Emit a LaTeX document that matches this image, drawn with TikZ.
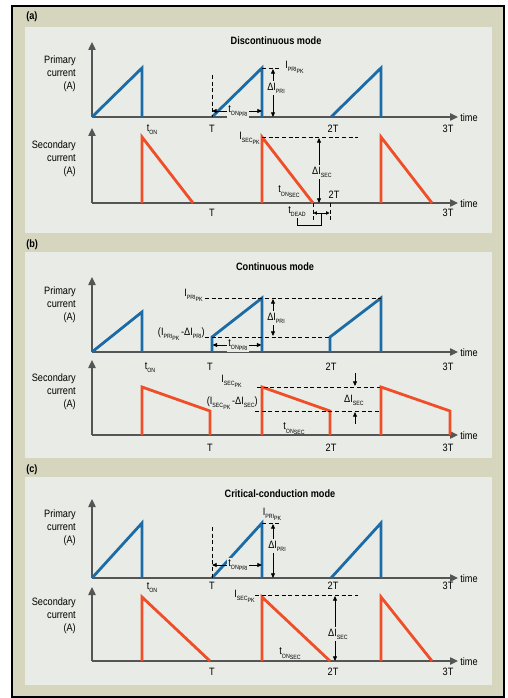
\documentclass[tikz,border=0pt]{standalone}
\usepackage{fontspec}
\setmainfont{Liberation Sans}[FakeStretch=0.86]
\usetikzlibrary{arrows.meta}

\definecolor{frametan}{RGB}{214,213,190}
\definecolor{panelgray}{RGB}{233,235,230}
\definecolor{priblue}{RGB}{27,108,166}
\definecolor{secred}{RGB}{240,78,40}
\definecolor{axisgray}{RGB}{85,85,85}

\newcommand{\lowsub}[1]{\raisebox{-0.55ex}{\fontsize{4.6}{5}\selectfont #1}}

\tikzset{
  axisline/.style={draw=axisgray, line width=1pt, -{Triangle[length=6pt,width=5.5pt]}},
  priwave/.style={draw=priblue, line width=2.1pt},
  secwave/.style={draw=secred, line width=2.1pt},
  guide/.style={draw=black, dash pattern=on 3pt off 2pt, line width=0.6pt},
  dimtip/.style={draw=black, line width=0.6pt, -{Triangle[length=3.5pt,width=3pt]}},
  txt/.style={inner sep=0.75pt, font=\fontsize{8}{9.8}\selectfont},
  ttl/.style={inner sep=0.75pt, font=\fontsize{8}{9.8}\selectfont\bfseries},
  onbar/.style={txt, fill=panelgray, inner sep=1.2pt},
}

\begin{document}
\begin{tikzpicture}[x=0.75pt,y=0.75pt,yscale=-1,xscale=1]
\useasboundingbox (0,0) rectangle (507,698);

% Frame and panels
\fill[white] (0,0) rectangle (507,698);
\draw[fill=frametan, line width=1.5pt] (12,6) rectangle (504,697);
\fill[panelgray] (25,27) rectangle (492,233);
\fill[panelgray] (25,252) rectangle (492,458);
\fill[panelgray] (25,477) rectangle (492,685);

\node[ttl, anchor=west] (aTag) at (25,17) {(a)};
\node[ttl, anchor=west] (bTag) at (25,245) {(b)};
\node[ttl, anchor=west] (cTag) at (25,470) {(c)};

%%%%%%%%%%%%%%%% (a) Discontinuous mode
\node[ttl] (aTitle) at (276,41) {Discontinuous mode};
\node[txt, align=right, anchor=east] (aPriName) at (77,74) {Primary\\current\\(A)};
\node[txt, align=right, anchor=east] (aSecName) at (77,159) {Secondary\\current\\(A)};

%Axes
\draw[axisline] (92,117) -- (92,42);
\draw[axisline] (92,117) -- (458,117);
\draw[axisline] (92,203) -- (92,128);
\draw[axisline] (92,203) -- (458,203);
\node[txt, anchor=west] (aPriTime) at (459,118) {time};
\node[txt, anchor=west] (aSecTime) at (459,204) {time};

%Primary current
\draw[priwave] (92,117) -- (142,68) -- (142,117);
\draw[priwave] (212,117) -- (262,68) -- (262,117);
\draw[priwave] (331,117) -- (381,68) -- (381,117);

%Secondary current
\draw[secwave] (142,203) -- (142,137) -- (193,203);
\draw[secwave] (262,203) -- (262,137) -- (313,203);
\draw[secwave] (381,203) -- (381,137) -- (432,203);

%Guides
\draw[guide] (212,75) -- (212,117);
\draw[guide] (262,68) -- (280,68);
\draw[guide] (262,137) -- (358,137);
\draw[guide] (313,203) -- (313,222);
\draw[guide] (330,203) -- (330,222);

% Text Node
\node[onbar] (aTonPri) at (238,111) {t\lowsub{ON\lowsub{PRI}}};
\draw[dimtip] (aTonPri.west) -- (212,111);
\draw[dimtip] (aTonPri.east) -- (262,111);
\node[txt, anchor=west] (aIpk) at (284,67) {I\lowsub{PRI\lowsub{PK}}};
\node[onbar] (aDIpri) at (276,88) {ΔI\lowsub{PRI}};
\draw[dimtip] (aDIpri.north -| 273,0) -- (273,69);
\draw[dimtip] (aDIpri.south -| 273,0) -- (273,117);
\node[txt, anchor=east] (aIsecpk) at (261,138) {I\lowsub{SEC\lowsub{PK}}};
\node[onbar] (aDIsec) at (322,172) {ΔI\lowsub{SEC}};
\draw[dimtip] (aDIsec.north -| 319,0) -- (319,138);
\draw[dimtip] (aDIsec.south -| 319,0) -- (319,203);
\node[txt] (aTonSec) at (289,192) {t\lowsub{ON\lowsub{SEC}}};
\node[txt] (aTdead) at (297,212) {t\lowsub{DEAD}};
\draw[draw=black, line width=0.6pt, {Triangle[length=2.5pt,width=2.5pt]}-{Triangle[length=2.5pt,width=2.5pt]}] (313.5,213) -- (329.5,213);
\draw[line width=0.6pt] (aTdead.south) |- (321,225) -- (321,213);

\node[txt] (aTon) at (152,130) {t\lowsub{ON}};
\node[txt] (aPriT1) at (212,129) {T};
\node[txt] (aPriT2) at (333,129) {2T};
\node[txt] (aPriT3) at (448,129) {3T};
\node[txt] (aSecT1) at (212,213) {T};
\node[txt] (aSecT2) at (334,195) {2T};
\node[txt] (aSecT3) at (448,213) {3T};

%%%%%%%%%%%%%%%% (b) Continuous mode
\node[ttl] (bTitle) at (275,267) {Continuous mode};
\node[txt, align=right, anchor=east] (bPriName) at (77,305) {Primary\\current\\(A)};
\node[txt, align=right, anchor=east] (bSecName) at (77,392) {Secondary\\current\\(A)};

%Axes
\draw[axisline] (92,352) -- (92,277);
\draw[axisline] (92,352) -- (458,352);
\draw[axisline] (92,435) -- (92,360);
\draw[axisline] (92,435) -- (458,435);
\node[txt, anchor=west] (bPriTime) at (459,353) {time};
\node[txt, anchor=west] (bSecTime) at (459,436) {time};

%Primary current
\draw[priwave] (92,352) -- (142,312) -- (142,352);
\draw[priwave] (212,352) -- (212,337) -- (262,298) -- (262,352);
\draw[priwave] (330,352) -- (330,337) -- (381,298) -- (381,352);

%Secondary current
\draw[secwave] (142,435) -- (142,387) -- (210,411) -- (210,435);
\draw[secwave] (262,435) -- (262,387) -- (330,411) -- (330,435);
\draw[secwave] (381,435) -- (381,387) -- (450,411) -- (450,435);

%Guides
\draw[guide] (205,298) -- (381,298);
\draw[guide] (205,337) -- (330,337);
\draw[guide] (257,387) -- (380,387);
\draw[guide] (255,411) -- (380,411);

% Text Node
\node[txt, anchor=east] (bIpk) at (204,295) {I\lowsub{PRI\lowsub{PK}}};
\node[txt, anchor=east] (bIlow) at (206,334) {(I\lowsub{PRI\lowsub{PK}}\,-ΔI\lowsub{PRI})};
\node[onbar] (bDIpri) at (276,318) {ΔI\lowsub{PRI}};
\draw[dimtip] (bDIpri.north -| 273,0) -- (273,299);
\draw[dimtip] (bDIpri.south -| 273,0) -- (273,336);
\node[onbar] (bTonPri) at (238,345) {t\lowsub{ON\lowsub{PRI}}};
\draw[dimtip] (bTonPri.west) -- (212.5,345);
\draw[dimtip] (bTonPri.east) -- (261.5,345);

\node[txt, anchor=east] (bIsecpk) at (243,381) {I\lowsub{SEC\lowsub{PK}}};
\node[txt, anchor=east] (bIseclow) at (259,403) {(I\lowsub{SEC\lowsub{PK}}\,-ΔI\lowsub{SEC})};
\node[txt] (bDIsec) at (354,400) {ΔI\lowsub{SEC}};
\coordinate (bArrTop) at (355,373);
\coordinate (bArrBot) at (355,424);
\draw[dimtip] (bArrTop) -- (355,386);
\draw[dimtip] (bArrBot) -- (355,412);
\node[txt] (bTonSec) at (294,429) {t\lowsub{ON\lowsub{SEC}}};

\node[txt] (bTon) at (150,368) {t\lowsub{ON}};
\node[txt] (bPriT1) at (210,367) {T};
\node[txt] (bPriT2) at (331,367) {2T};
\node[txt] (bPriT3) at (448,367) {3T};
\node[txt] (bSecT1) at (210,448) {T};
\node[txt] (bSecT2) at (331,448) {2T};
\node[txt] (bSecT3) at (448,448) {3T};

%%%%%%%%%%%%%%%% (c) Critical-conduction mode
\node[ttl] (cTitle) at (280,494) {Critical-conduction mode};
\node[txt, align=right, anchor=east] (cPriName) at (77,528) {Primary\\current\\(A)};
\node[txt, align=right, anchor=east] (cSecName) at (77,616) {Secondary\\current\\(A)};

%Axes
\draw[axisline] (92,578) -- (92,499);
\draw[axisline] (92,578) -- (458,578);
\draw[axisline] (92,661) -- (92,587);
\draw[axisline] (92,661) -- (458,661);
\node[txt, anchor=west] (cPriTime) at (459,579) {time};
\node[txt, anchor=west] (cSecTime) at (459,662) {time};

%Primary current
\draw[priwave] (92,578) -- (142,523) -- (142,578);
\draw[priwave] (212,578) -- (262,523) -- (262,578);
\draw[priwave] (331,578) -- (381,523) -- (381,578);

%Secondary current
\draw[secwave] (142,661) -- (142,597) -- (210,661);
\draw[secwave] (262,661) -- (262,597) -- (330,661);
\draw[secwave] (381,661) -- (381,597) -- (432,661);

%Guides
\draw[guide] (212,527) -- (212,578);
\draw[guide] (262,523) -- (280,523);
\draw[guide] (255,595) -- (358,595);

% Text Node
\node[txt] (cIpk) at (272,514) {I\lowsub{PRI\lowsub{PK}}};
\node[onbar] (cDIpri) at (277,546) {ΔI\lowsub{PRI}};
\draw[dimtip] (cDIpri.north -| 273,0) -- (273,524);
\draw[dimtip] (cDIpri.south -| 273,0) -- (273,578);
\node[onbar] (cTonPri) at (238,565) {t\lowsub{ON\lowsub{PRI}}};
\draw[dimtip] (cTonPri.west) -- (212,565);
\draw[dimtip] (cTonPri.east) -- (262,565);

\node[txt, anchor=east] (cIsecpk) at (256,596) {I\lowsub{SEC\lowsub{PK}}};
\node[onbar] (cDIsec) at (338,634) {ΔI\lowsub{SEC}};
\draw[dimtip] (cDIsec.north -| 335,0) -- (335,596);
\draw[dimtip] (cDIsec.south -| 335,0) -- (335,661);
\node[txt] (cTonSec) at (290,654) {t\lowsub{ON\lowsub{SEC}}};

\node[txt] (cTon) at (152,588) {t\lowsub{ON}};
\node[txt] (cPriT1) at (212,586) {T};
\node[txt] (cPriT2) at (333,586) {2T};
\node[txt] (cPriT3) at (448,586) {3T};
\node[txt] (cSecT1) at (212,672) {T};
\node[txt] (cSecT2) at (333,672) {2T};
\node[txt] (cSecT3) at (448,672) {3T};

\end{tikzpicture}
\end{document}
